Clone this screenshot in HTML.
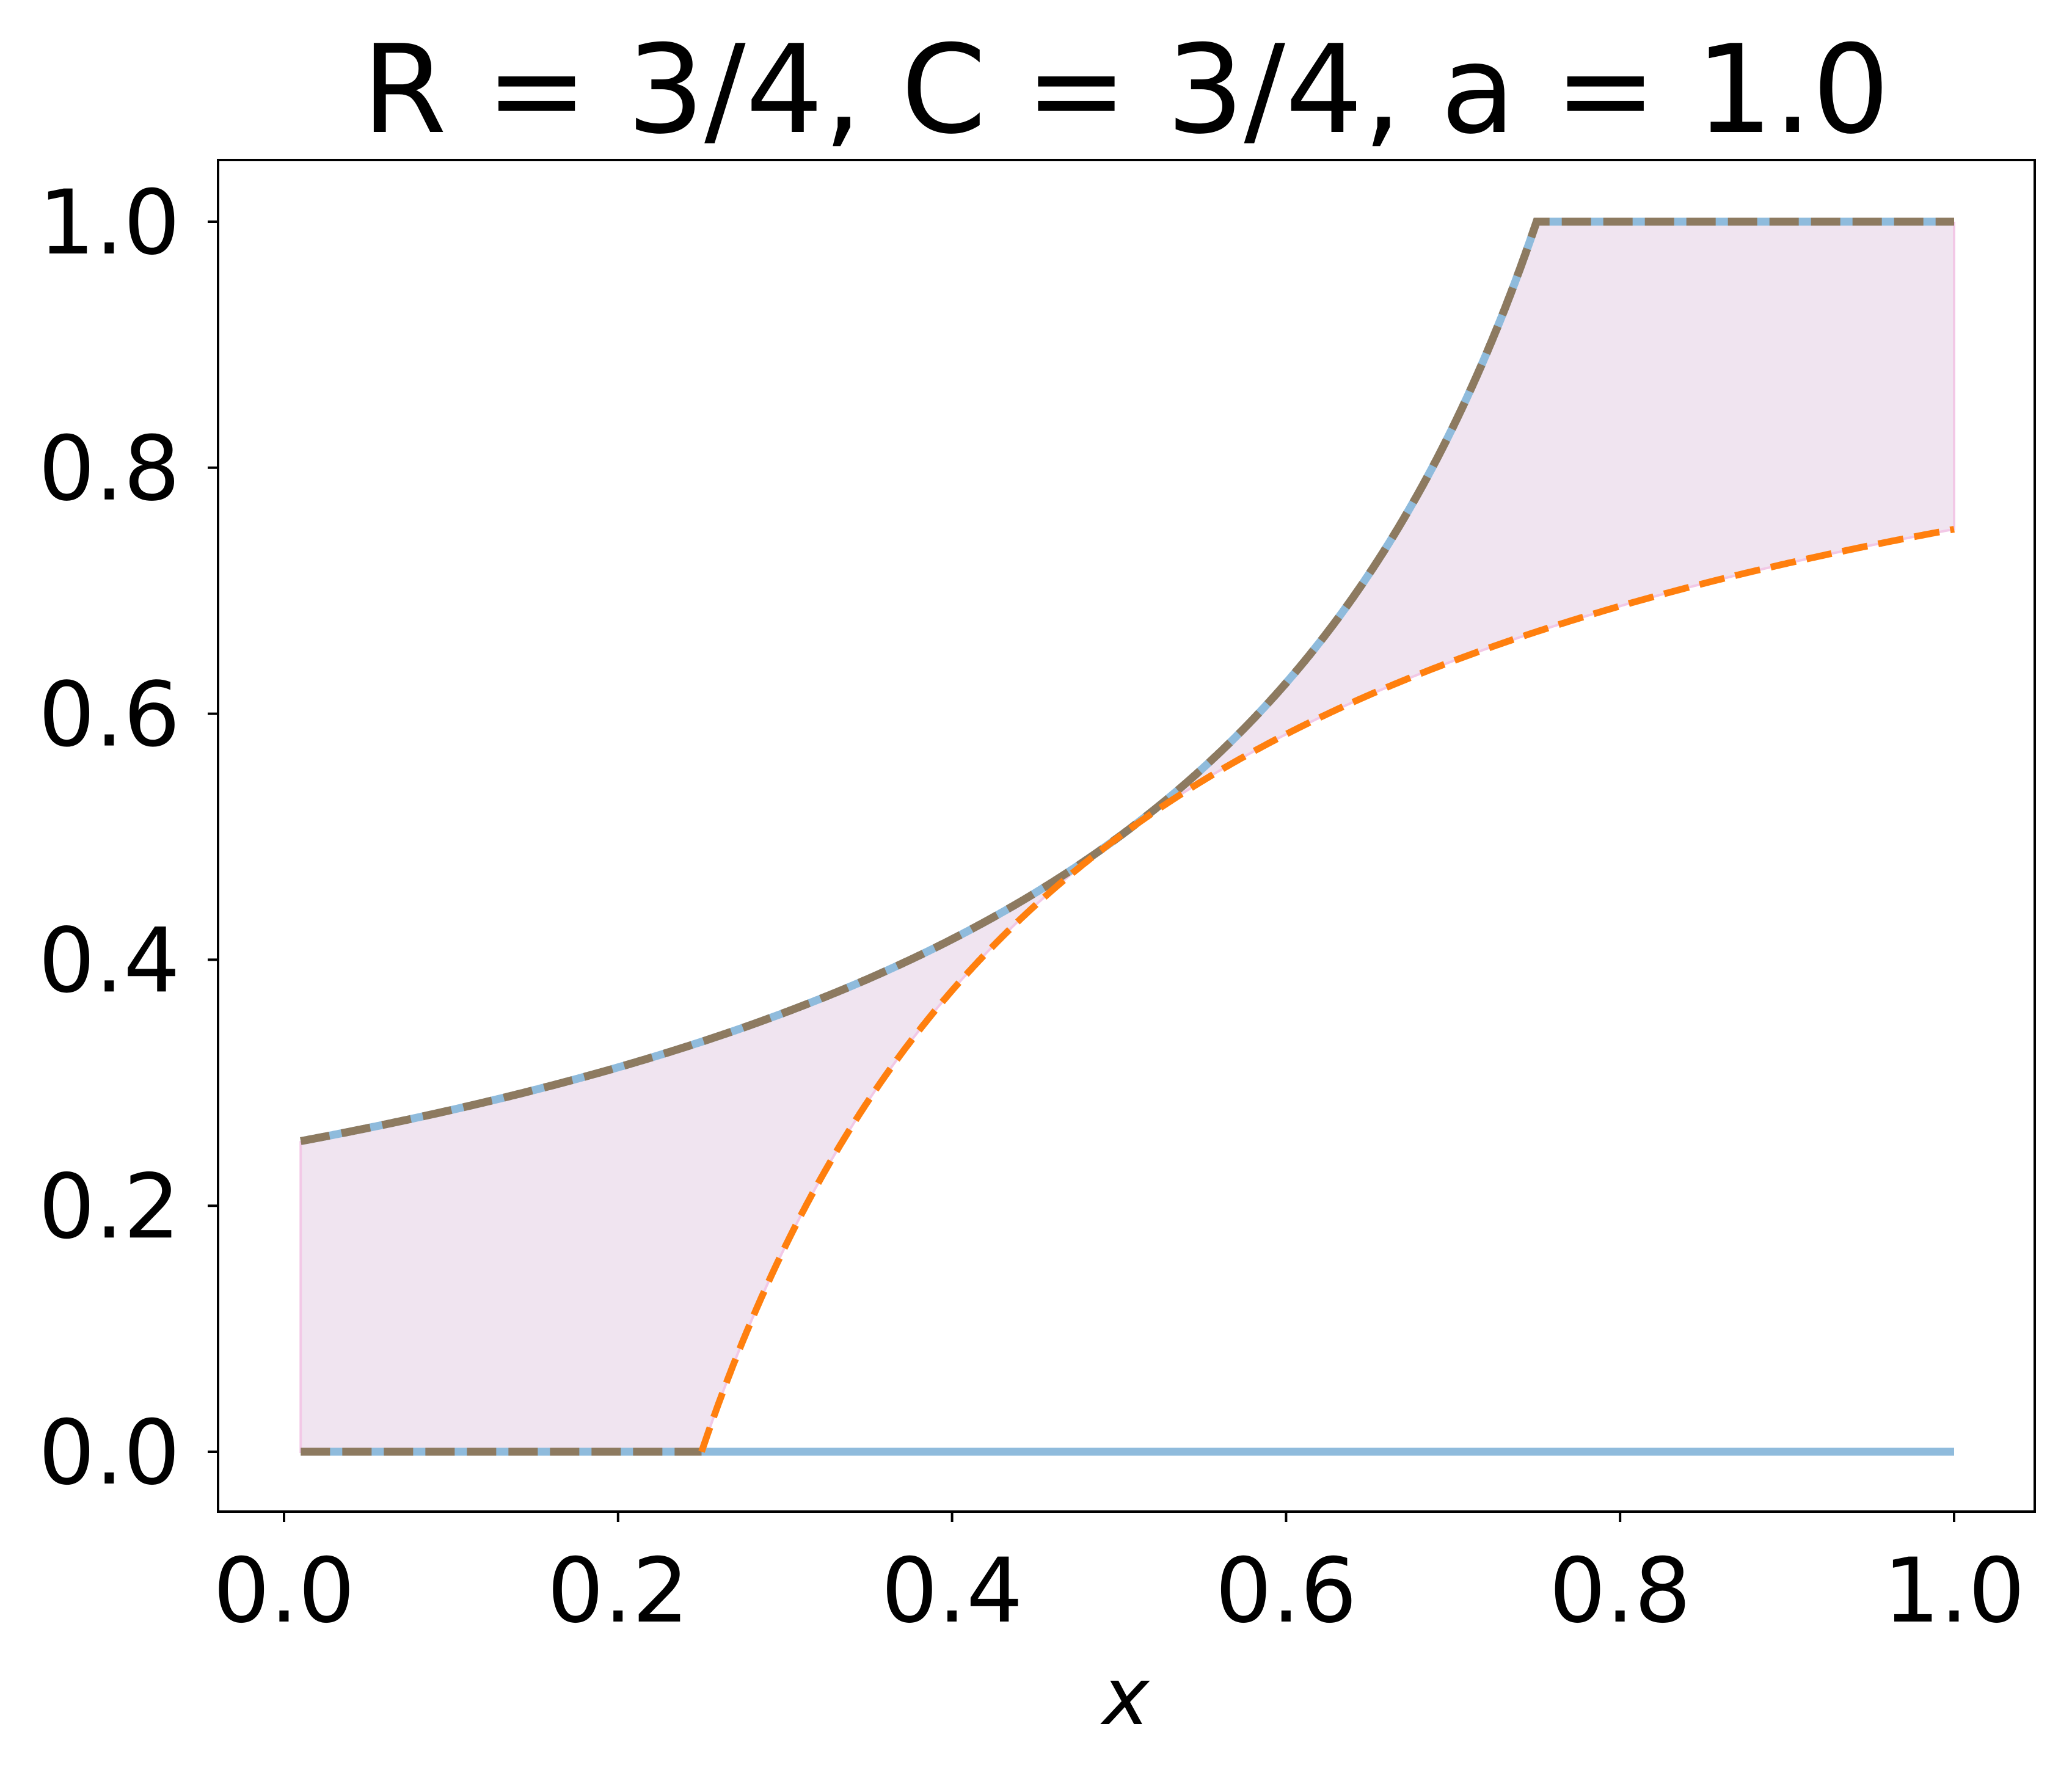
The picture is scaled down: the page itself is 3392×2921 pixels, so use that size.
<!DOCTYPE html>
<html><head><meta charset="utf-8"><style>
html,body{margin:0;padding:0;background:#fff}
svg{display:block}
text{font-family:"DejaVu Sans","Liberation Sans",sans-serif;fill:#000}
</style></head><body>
<svg id="s" width="3392" height="2921" viewBox="0 0 3392 2921" xmlns="http://www.w3.org/2000/svg">
<rect width="3392" height="2921" fill="#fff"/>
<path id="fill" fill="#f0e4f0" stroke="none"/>
<path id="pinkedge" fill="none" stroke="#f2c8e6" stroke-width="4"/>
<path id="blue0" fill="none" stroke="#8fbbdc" stroke-width="13"/>
<path id="blueU" fill="none" stroke="#8fbbdc" stroke-width="13"/>
<path id="brownU" fill="none" stroke="#8d7a60" stroke-width="13" stroke-dasharray="48,20"/>
<path id="brown0" fill="none" stroke="#8d7a60" stroke-width="13" stroke-dasharray="48,20"/>
<path id="orange" fill="none" stroke="#ff7f0e" stroke-width="11" stroke-dasharray="42,18"/>
<rect x="357" y="262" width="2974" height="2213" fill="none" stroke="#000" stroke-width="4"/>
<g id="ticks" stroke="#000" stroke-width="4"></g>
<g id="labels" font-size="146"></g>
<text x="1843" y="216" font-size="200" text-anchor="middle">R = 3/4, C = 3/4, a = 1.0</text>
<text x="1843" y="2823" font-size="130" text-anchor="middle" font-style="italic">x</text>
</svg>
<script>
const X=x=>465+x*2734, Y=y=>2377-y*2014;
const up=x=>Math.min(1,1/(4*(1-x))), lo=x=>Math.max(0,1-1/(4*x));
let xs=[];for(let i=0;i<=990;i++)xs.push(0.01+i*0.001);
const pts=f=>xs.map(x=>X(x).toFixed(1)+','+Y(f(x)).toFixed(1));
const U=pts(up), L=pts(lo);
const g=id=>document.getElementById(id);
g('fill').setAttribute('d','M'+U.join('L')+'L'+L.slice().reverse().join('L')+'Z');
g('pinkedge').setAttribute('d','M'+U[0]+'L'+L.join('L')+'L'+U[U.length-1]);
g('blueU').setAttribute('d','M'+U.join('L'));
g('brownU').setAttribute('d','M'+U.join('L'));
g('blue0').setAttribute('d',`M${X(0.01)},${Y(0)}L${X(1)},${Y(0)}`);
g('brown0').setAttribute('d',`M${X(0.01)},${Y(0)}L${X(0.25)},${Y(0)}`);
let xo=xs.filter(x=>x>=0.25);
g('orange').setAttribute('d','M'+xo.map(x=>X(x).toFixed(1)+','+Y(lo(x)).toFixed(1)).join('L'));
let t='',l='';
for(let i=0;i<=5;i++){let v=i*0.2,px=X(v),py=Y(v);
t+=`<line x1="${px}" y1="2475" x2="${px}" y2="2492"/><line x1="357" y1="${py}" x2="340" y2="${py}"/>`;
l+=`<text x="${px}" y="2655" text-anchor="middle">${v.toFixed(1)}</text><text x="295" y="${py+52}" text-anchor="end">${v.toFixed(1)}</text>`;}
g('ticks').innerHTML=t;g('labels').innerHTML=l;
</script>
</body></html>
